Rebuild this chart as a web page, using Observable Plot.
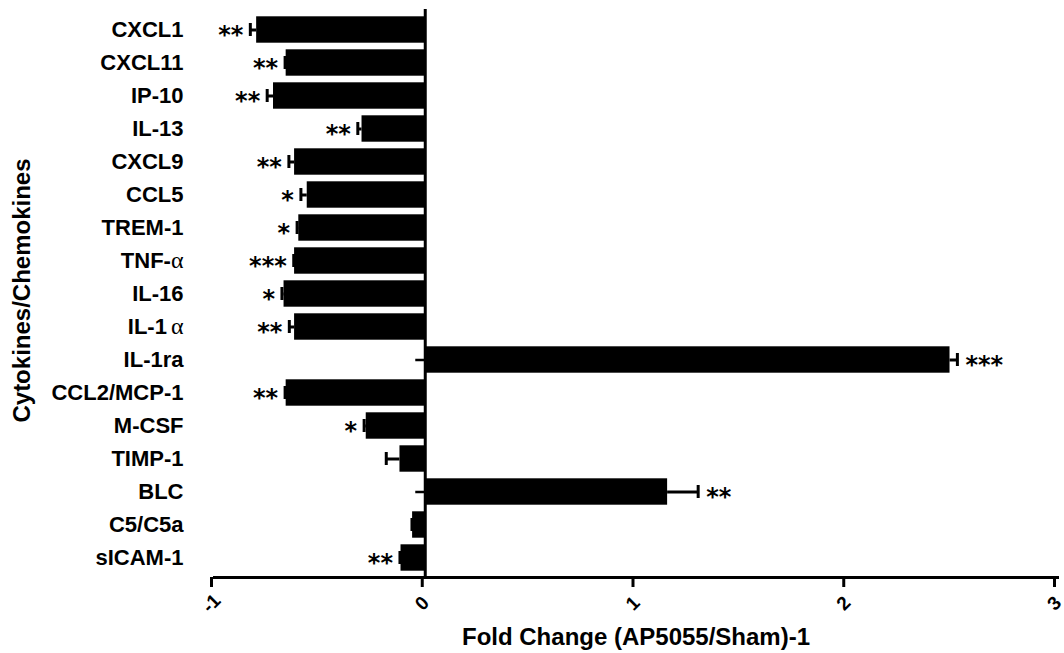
<!DOCTYPE html>
<html>
<head>
<meta charset="utf-8">
<script src="https://cdn.jsdelivr.net/npm/d3@7"></script>
<script src="https://cdn.jsdelivr.net/npm/@observablehq/plot@0.6"></script>
<style>
  html, body { margin: 0; padding: 0; background: #fff; }
</style>
</head>
<body>
<div id="chart"></div>
<script>
// Cytokines / chemokines, top to bottom
const names = ["CXCL1", "CXCL11", "IP-10", "IL-13", "CXCL9", "CCL5", "TREM-1", "TNF-α", "IL-16",
  "IL-1α", "IL-1ra", "CCL2/MCP-1", "M-CSF", "TIMP-1", "BLC", "C5/C5a", "sICAM-1"];
// Fold change (AP5055/Sham) - 1
const foldChange = [-0.80, -0.66, -0.72, -0.30, -0.62, -0.56, -0.60, -0.62, -0.67,
  -0.62, 2.49, -0.66, -0.28, -0.12, 1.15, -0.06, -0.115];
// Standard error of the mean
const sem = [0.03, 0.005, 0.03, 0.02, 0.027, 0.03, 0.008, 0.004, 0.01,
  0.025, 0.035, 0.005, 0.01, 0.065, 0.145, 0.003, 0.005];
// Significance markers
const stars = ["**", "**", "**", "**", "**", "*", "*", "***", "*",
  "**", "***", "**", "*", "", "**", "", "**"];
const xTicks = [-1, 0, 1, 2, 3];

const rows = names.map((name, i) => ({
  name,
  value: foldChange[i],
  sem: sem[i],
  end: foldChange[i] + Math.sign(foldChange[i]) * sem[i],
  stars: stars[i]
}));

const font = "'Liberation Sans', Arial, Helvetica, sans-serif";
const starFont = "'DejaVu Sans', sans-serif";

const chart = Plot.plot({
  width: 1064,
  height: 653,
  marginLeft: 214,
  marginRight: 7,
  marginTop: 9,
  marginBottom: 76,
  style: {background: "#fff", fontFamily: font, color: "#000"},
  x: {domain: [-1, 3]},
  y: {domain: names, padding: 0},
  marks: [
    // category ticks on the zero axis (hidden behind negative bars)
    Plot.ruleY(rows, {y: "name", x1: -0.045, x2: 0, stroke: "#000", strokeWidth: 2.5}),
    // error bars
    Plot.ruleY(rows, {y: "name", x1: "value", x2: "end", stroke: "#000", strokeWidth: 3}),
    Plot.tickX(rows, {y: "name", x: "end", stroke: "#000", strokeWidth: 3, insetTop: 10, insetBottom: 10}),
    // bars
    Plot.barX(rows, {y: "name", x: "value", fill: "#000", insetTop: 3.3, insetBottom: 3.3}),
    // zero axis
    Plot.ruleX([0], {stroke: "#000", strokeWidth: 3}),
    // significance
    Plot.text(rows.filter(d => d.value < 0), {
      y: "name", x: "end", text: "stars", textAnchor: "end", dx: -7, dy: 5,
      fontFamily: starFont, fontSize: 24, fontWeight: "bold", fill: "#000"
    }),
    Plot.text(rows.filter(d => d.value > 0), {
      y: "name", x: "end", text: "stars", textAnchor: "start", dx: 8, dy: 5,
      fontFamily: starFont, fontSize: 24, fontWeight: "bold", fill: "#000"
    }),
    // axes
    Plot.axisY({
      anchor: "left", tickSize: 0, tickPadding: 31, label: null,
      fontSize: 22, fontWeight: "bold"
    }),
    Plot.frame({anchor: "bottom", stroke: "#000", strokeWidth: 3}),
    Plot.axisX({
      ticks: xTicks, tickFormat: d => String(d), tickSize: 10, tickPadding: 16,
      tickRotate: -45, textAnchor: "middle", lineAnchor: "middle", dx: -3,
      strokeWidth: 3, fontSize: 19, fontWeight: "bold", label: null
    }),
    // axis titles
    Plot.text(["Fold Change (AP5055/Sham)-1"], {
      frameAnchor: "bottom", dy: 60, textAnchor: "middle", lineAnchor: "middle",
      fontSize: 24, fontWeight: "bold", fill: "#000"
    }),
    Plot.text(["Cytokines/Chemokines"], {
      frameAnchor: "left", dx: -192, dy: -3, rotate: -90,
      textAnchor: "middle", lineAnchor: "middle",
      fontSize: 24, fontWeight: "bold", fill: "#000"
    })
  ]
});

// Greek letters in the cytokine names are set in a serif face
chart.querySelectorAll("text").forEach(t => {
  const s = t.textContent;
  if (!s.includes("α") || t.children.length) return;
  const i = s.indexOf("α");
  t.textContent = "";
  const ns = "http://www.w3.org/2000/svg";
  const a = document.createElementNS(ns, "tspan");
  a.textContent = s.slice(0, i);
  const g = document.createElementNS(ns, "tspan");
  g.textContent = "α";
  g.setAttribute("font-family", "'Liberation Serif', 'Times New Roman', serif");
  g.setAttribute("font-weight", "normal");
  g.setAttribute("font-size", "24");
  if (s.slice(0, i).endsWith("1")) g.setAttribute("dx", "4");
  t.appendChild(a);
  t.appendChild(g);
});

document.getElementById("chart").appendChild(chart);
</script>
</body>
</html>
